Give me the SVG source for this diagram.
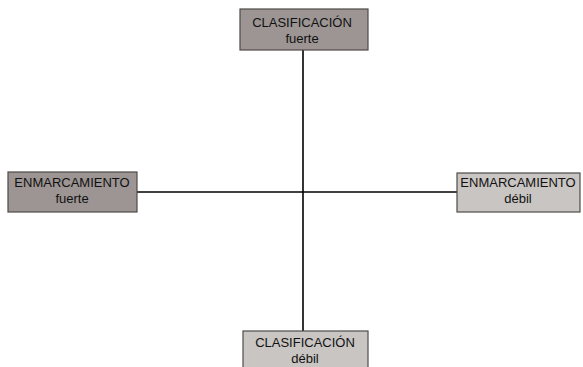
<svg xmlns="http://www.w3.org/2000/svg" width="583" height="367" viewBox="0 0 583 367">
<style>
.box{stroke:#4f4b49;stroke-width:1.2}
.dark{fill:#9c9593}
.light{fill:#c9c5c2}
.t{font-family:"Liberation Sans",Arial,sans-serif;font-size:13px;fill:#111;text-anchor:middle}
.ln{stroke:#000;stroke-width:1.6;fill:none}
</style>
<rect width="583" height="367" fill="#fff"/>
<g id="connectors">
<line class="ln" x1="303" y1="50" x2="303" y2="331"/>
<line class="ln" x1="137" y1="192" x2="457" y2="192"/>
</g>
<g id="clasificacion-fuerte">
<rect class="box dark" x="240" y="9" width="128" height="41"/>
<text class="t" x="302" y="27">CLASIFICACIÓN</text>
<text class="t" x="302" y="43">fuerte</text>
</g>
<g id="enmarcamiento-fuerte">
<rect class="box dark" x="8" y="172" width="129" height="40"/>
<text class="t" x="72" y="187">ENMARCAMIENTO</text>
<text class="t" x="72" y="203">fuerte</text>
</g>
<g id="enmarcamiento-debil">
<rect class="box light" x="457" y="173" width="123" height="39"/>
<text class="t" x="518" y="187">ENMARCAMIENTO</text>
<text class="t" x="518" y="203">débil</text>
</g>
<g id="clasificacion-debil">
<rect class="box light" x="243" y="331" width="125" height="40"/>
<text class="t" x="305" y="347">CLASIFICACIÓN</text>
<text class="t" x="305" y="363">débil</text>
</g>
</svg>
